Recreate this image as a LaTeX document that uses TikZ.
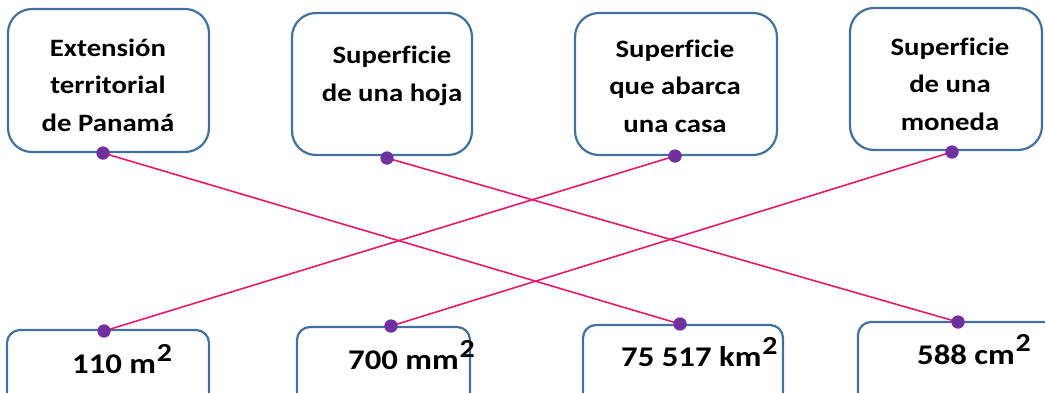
\documentclass[tikz,border=0pt]{standalone}
\usepackage{fontspec}
\setmainfont{Carlito}[FakeStretch=1.15, Ligatures=NoCommon]
\definecolor{boxblue}{HTML}{41719C}
\definecolor{linepink}{HTML}{E8196A}
\definecolor{dotpurple}{HTML}{7030A0}
\newcommand{\sq}[1]{\kern0.8pt\raisebox{#1}{\fontsize{26}{26}\selectfont 2}}
\begin{document}
\begin{tikzpicture}[x=1pt,y=-1pt,
  topbox/.style={draw=boxblue, line width=2.2pt, rounded corners=24pt, fill=white},
  botbox/.style={draw=boxblue, line width=2.2pt, rounded corners=13pt, fill=white},
  toptext/.style={align=center, font=\bfseries\fontsize{25}{37.5}\selectfont, inner sep=0pt},
  bottext/.style={anchor=base west, font=\bfseries\fontsize{28.5}{30}\selectfont, inner sep=0pt},
  dot/.style={circle, fill=dotpurple, minimum size=13pt, inner sep=0pt},
  link/.style={draw=linepink, line width=1.6pt}]
\useasboundingbox (0,0) rectangle (1045,392);
\clip (0,0) rectangle (1045,392);
% top boxes
\draw[topbox] (8,9) rectangle (209,152);
\draw[topbox] (292,13) rectangle (472,155);
\draw[topbox] (575,13) rectangle (777,155);
\draw[topbox] (850,8) rectangle (1042,150);
\node[toptext] (t1) at (108,85) {Extensión\\territorial\\de Panamá};
\node[toptext] (t2) at (392,76) {Superficie\\de una hoja};
\node[toptext] (t3) at (675,86) {Superficie\\que abarca\\una casa};
\node[toptext] (t4) at (950,84) {Superficie\\de una\\moneda};
% bottom boxes
\draw[botbox] (7,330) rectangle (209,420);
\draw[botbox] (297,327) rectangle (470,420);
\draw[botbox] (583,325) rectangle (783,420);
\draw[botbox] (858,322) rectangle (1080,420);
\node[bottext] (v1) at (72,373) {110 m\sq{12pt}};
\node[bottext] (v2) at (348,369) {700 mm\sq{12pt}};
\node[bottext] (v3) at (621,366) {75 517 km\sq{12pt}};
\node[bottext] (v4) at (917,364) {588 cm\sq{13pt}};
% dots
\node[dot] (a1) at (103,153) {};
\node[dot] (a2) at (387,158) {};
\node[dot] (a3) at (675,156) {};
\node[dot] (a4) at (952,152) {};
\node[dot] (c1) at (104,331) {};
\node[dot] (c2) at (391,326) {};
\node[dot] (c3) at (680,324) {};
\node[dot] (c4) at (958,322) {};
% links
\draw[link] (a1.center) -- (c3.center);
\draw[link] (a2.center) -- (c4.center);
\draw[link] (a3.center) -- (c1.center);
\draw[link] (a4.center) -- (c2.center);
\foreach \n in {a1,a2,a3,a4,c1,c2,c3,c4} \node[dot] at (\n) {};
\end{tikzpicture}
\end{document}
